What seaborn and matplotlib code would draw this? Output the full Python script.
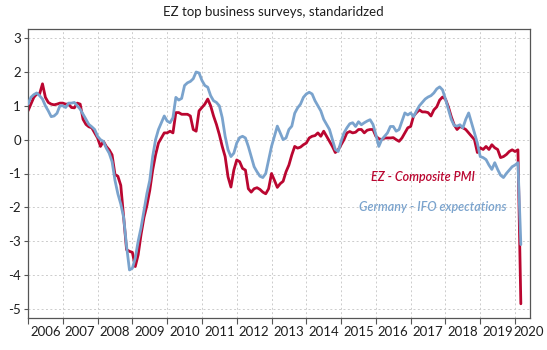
import numpy as np
import pandas as pd
import matplotlib
matplotlib.use("Agg")
import matplotlib.pyplot as plt
import seaborn as sns

# ---- data (monthly, Jan 2006 .. Mar 2020), standardized ----
start_year = 2006
pmi = [
    0.85, 1.05, 1.25, 1.35, 1.35, 1.65, 1.25, 1.10, 1.05, 1.03, 1.05, 1.08,   # 2006
    1.08, 1.05, 1.05, 0.95, 0.94, 1.08, 1.05, 0.60, 0.45, 0.38, 0.35, 0.20,   # 2007
    0.05, -0.20, -0.05, -0.20, -0.30, -0.45, -1.03, -1.08, -1.35, -2.30, -3.25, -3.30,  # 2008
    -3.33, -3.75, -3.40, -2.80, -2.30, -1.95, -1.50, -0.90, -0.45, -0.10, 0.05, 0.20,  # 2009
    0.20, 0.25, 0.20, 0.80, 0.80, 0.75, 0.75, 0.75, 0.70, 0.30, 0.25, 0.85,   # 2010
    0.95, 1.05, 1.20, 1.00, 0.70, 0.45, 0.15, -0.20, -0.50, -1.10, -1.40, -0.90,  # 2011
    -0.60, -0.65, -0.85, -0.90, -1.45, -1.55, -1.45, -1.42, -1.47, -1.55, -1.60, -1.45,  # 2012
    -1.00, -1.20, -1.41, -1.30, -1.23, -0.95, -0.75, -0.45, -0.20, -0.25, -0.22, -0.15,  # 2013
    -0.10, 0.05, 0.10, 0.12, 0.20, 0.10, 0.25, 0.10, -0.05, -0.20, -0.38, -0.30,  # 2014
    -0.15, 0.00, 0.20, 0.24, 0.20, 0.22, 0.30, 0.30, 0.20, 0.28, 0.30, 0.30,   # 2015
    0.10, 0.03, 0.00, 0.05, 0.05, 0.05, 0.06, 0.00, -0.05, 0.05, 0.20, 0.35,   # 2016
    0.39, 0.70, 0.80, 0.88, 0.82, 0.82, 0.80, 0.70, 0.88, 0.97, 1.17, 1.26,   # 2017
    1.20, 0.97, 0.68, 0.44, 0.30, 0.39, 0.35, 0.30, 0.20, 0.10, 0.00, -0.38,  # 2018
    -0.24, -0.29, -0.20, -0.29, -0.15, -0.24, -0.29, -0.53, -0.50, -0.44, -0.35, -0.30,  # 2019
    -0.35, -0.30, -4.85,                                                       # 2020
]
ifo = [
    1.05, 1.25, 1.33, 1.38, 1.30, 1.20, 1.00, 0.85, 0.68, 0.70, 0.78, 1.00,   # 2006
    1.00, 0.95, 1.08, 1.08, 1.10, 1.00, 0.90, 0.75, 0.60, 0.45, 0.38, 0.30,   # 2007
    0.10, 0.00, -0.05, -0.25, -0.40, -0.65, -1.20, -1.60, -1.90, -2.30, -3.15, -3.85,  # 2008
    -3.80, -3.50, -3.00, -2.60, -2.10, -1.60, -1.20, -0.50, 0.00, 0.30, 0.50, 0.70,  # 2009
    0.55, 0.50, 0.65, 1.25, 1.17, 1.22, 1.60, 1.68, 1.72, 1.80, 2.00, 1.97,   # 2010
    1.75, 1.60, 1.55, 1.30, 1.15, 1.10, 1.00, 0.65, 0.10, -0.30, -0.50, -0.40,  # 2011
    -0.10, 0.06, 0.10, 0.05, -0.20, -0.50, -0.80, -0.95, -1.08, -1.12, -1.00, -0.60,  # 2012
    -0.20, 0.10, 0.40, 0.20, 0.00, 0.05, 0.30, 0.40, 0.78, 0.94, 1.05, 1.25,   # 2013
    1.35, 1.40, 1.35, 1.15, 1.00, 0.85, 0.60, 0.45, 0.30, 0.00, -0.29, -0.35,  # 2014
    -0.05, 0.20, 0.35, 0.47, 0.50, 0.39, 0.53, 0.44, 0.50, 0.55, 0.59, 0.45,   # 2015
    0.15, -0.20, 0.00, 0.10, 0.20, 0.39, 0.39, 0.25, 0.30, 0.55, 0.79, 0.73,   # 2016
    0.79, 0.68, 0.85, 1.00, 1.10, 1.20, 1.26, 1.30, 1.38, 1.50, 1.56, 1.47,   # 2017
    1.20, 0.90, 0.60, 0.42, 0.40, 0.44, 0.35, 0.60, 0.79, 0.50, 0.20, -0.10,  # 2018
    -0.50, -0.53, -0.59, -0.75, -0.88, -0.68, -0.88, -1.05, -1.12, -1.00, -0.90, -0.80,  # 2019
    -0.75, -0.68, -3.10,                                                       # 2020
]
series_names = ["EZ - Composite PMI", "Germany - IFO expectations"]
years = list(range(2006, 2021))
year_labels = [str(y) for y in years]
y_ticks = [-5, -4, -3, -2, -1, 0, 1, 2, 3]
title = "EZ top business surveys, standaridzed"

# ---- style ----
sns.set_theme(style="white")
plt.rcParams["font.family"] = ["Lato", "DejaVu Sans"]
plt.rcParams["axes.unicode_minus"] = False

RED = "#BA0630"
BLUE = "#7AA3CD"

t = start_year + np.arange(len(pmi)) / 12.0
df = pd.DataFrame({"t": t, series_names[0]: pmi, series_names[1]: ifo})
long = df.melt("t", var_name="series", value_name="z")

fig = plt.figure(figsize=(5.47, 3.5), dpi=100)
ax = fig.add_axes([28 / 547, 32 / 350, 502 / 547, 289 / 350])

sns.lineplot(data=long, x="t", y="z", hue="series", hue_order=series_names,
             palette={series_names[0]: RED, series_names[1]: BLUE},
             linewidth=2.0, legend=False, ax=ax)
lines = ax.get_lines()
if len(lines) >= 2:
    lines[1].set_zorder(3)
    lines[0].set_zorder(2)

ax.set_xlim(2006, 2020.43)
ax.set_ylim(-5.27, 3.27)

ax.set_xticks(years)
ax.set_xticklabels([])
minor_pos = [y + 0.5 for y in years[:-1]] + [2020.38]
ax.set_xticks(minor_pos, minor=True)
ax.set_xticklabels(year_labels, minor=True)
ax.tick_params(axis="x", which="major", length=4.5, width=0.8, color="#555555",
               direction="out", bottom=True)
ax.tick_params(axis="x", which="minor", length=0, pad=6, labelsize=9.5,
               labelcolor="#1e1e1e", bottom=True)

ax.set_yticks(y_ticks)
ax.set_yticklabels([str(v) for v in y_ticks])
ax.tick_params(axis="y", length=3, width=0.8, color="#555555", direction="out",
               left=True, labelsize=9.5, labelcolor="#1e1e1e", pad=2)

ax.set_xlabel("")
ax.set_ylabel("")

ax.grid(True, which="major", color="#cccccc", linestyle=(0, (2, 2.5)), linewidth=0.7)
for s in ax.spines.values():
    s.set_color("#555555")
    s.set_linewidth(0.9)

ax.text(2017.35, -1.1, series_names[0], color=RED, fontsize=9,
        fontstyle="italic", fontweight="semibold", ha="center", va="center")
ax.text(2017.64, -2.0, series_names[1], color=BLUE, fontsize=9,
        fontstyle="italic", fontweight="semibold", ha="center", va="center")

fig.text(0.5, 1 - 12 / 350, title, ha="center", va="center", fontsize=9.5,
         color="#1e1e1e")

fig.savefig("out.png", dpi=100)
